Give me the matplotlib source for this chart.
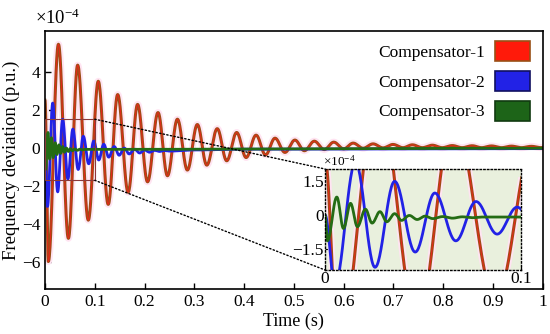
import numpy as np
import matplotlib
matplotlib.use('Agg')
import matplotlib.pyplot as plt
import matplotlib.patheffects as pe
from matplotlib.patches import Patch, Rectangle, ConnectionPatch

plt.rcParams['font.family'] = ['Liberation Serif', 'DejaVu Serif']
plt.rcParams['mathtext.fontset'] = 'custom'
plt.rcParams['mathtext.rm'] = 'Liberation Serif'
plt.rcParams['mathtext.it'] = 'Liberation Serif:italic'

# extrema (time in s, value in 1e-4 p.u.)
red_t = [0, 0.0067, 0.027, 0.047, 0.0656, 0.087, 0.107, 0.127, 0.146, 0.167,
         0.186, 0.206, 0.227, 0.246, 0.266, 0.286, 0.306, 0.325, 0.346, 0.365,
         0.385, 0.404, 0.424, 0.443, 0.462, 0.482, 0.502, 0.521, 0.541, 0.561,
         0.580, 0.600, 0.619, 0.639, 0.659, 0.679, 0.699, 0.719, 0.738, 0.758,
         0.778, 0.798, 0.818, 0.838, 0.858, 0.877, 0.897, 0.917, 0.937, 0.957,
         0.977, 0.997]
red_v = [2.5, -6.0, 5.45, -4.78, 4.35, -3.82, 3.5, -2.99, 2.8, -2.35,
         2.28, -1.8, 1.85, -1.48, 1.5, -1.18, 1.22, -0.92, 1.0, -0.69,
         0.8, -0.52, 0.66, -0.38, 0.5, -0.25, 0.4, -0.16, 0.34, -0.1,
         0.29, -0.06, 0.24, -0.03, 0.2, -0.01, 0.17, 0.0, 0.15, 0.0,
         0.13, 0.0, 0.11, 0.0, 0.1, 0.0, 0.09, 0.0, 0.08, 0.0,
         0.07, 0.0]

blue_t = [0, 0.005, 0.0155, 0.0255, 0.0355, 0.046, 0.056, 0.0667, 0.077, 0.0878,
          0.098, 0.108, 0.118, 0.128, 0.139, 0.149, 0.159, 0.169, 0.18, 0.19,
          0.2, 0.21, 0.22, 0.23, 0.24, 0.25, 0.3, 0.4, 1.0]
blue_v = [0, -3.1, 2.35, -2.33, 1.5, -1.65, 0.98, -1.15, 0.6, -0.85,
          0.35, -0.65, 0.18, -0.5, 0.06, -0.4, -0.02, -0.33, -0.08, -0.28,
          -0.12, -0.24, -0.14, -0.2, -0.15, -0.18, -0.12, -0.08, -0.05]

green_t = [0, 0.0012, 0.006, 0.0094, 0.013, 0.0165, 0.0206, 0.024, 0.028, 0.0315,
           0.0355, 0.039, 0.043, 0.047, 0.051, 0.055, 0.06, 0.065, 0.07, 0.075,
           0.08, 1.0]
green_v = [0, -1.15, 0.8, -0.6, 0.52, -0.52, 0.26, -0.36, 0.15, -0.3,
           0.06, -0.24, -0.02, -0.2, -0.05, -0.16, -0.07, -0.14, -0.08, -0.12,
           -0.09, -0.03]

labels = ['Compensator-1', 'Compensator-2', 'Compensator-3']


def smooth(tt, vv, n=30):
    # half-cosine shape between successive read extrema
    xs, ys = [], []
    for i in range(len(tt) - 1):
        s = np.linspace(0, 1, n, endpoint=False)
        xs.append(tt[i] + (tt[i + 1] - tt[i]) * s)
        ys.append(vv[i] + (vv[i + 1] - vv[i]) * (1 - np.cos(np.pi * s)) / 2)
    xs.append([tt[-1]])
    ys.append([vv[-1]])
    return np.concatenate(xs), np.concatenate(ys)


rx, ry = smooth(red_t, red_v)
rx = np.append(rx, 1.0)
ry = np.append(ry, 0.02)
bx, by = smooth(blue_t, blue_v)
gx, gy = smooth(green_t, green_v)

red_c = '#e8261a'
brown_c = '#9a5016'
blue_c = '#2222e6'
green_c = '#246c14'


def draw(ax):
    ax.plot(rx, ry, color='#ffe4f2', lw=5, solid_capstyle='butt')
    ax.plot(rx, ry, color=red_c, lw=0.7,
            path_effects=[pe.Stroke(linewidth=2.2, foreground=brown_c), pe.Normal()])
    ax.plot(bx, by, color=blue_c, lw=2.0)
    ax.plot(gx, gy, color=green_c, lw=2.0)


fig = plt.figure(figsize=(5.5, 3.34), dpi=100)
ax = fig.add_axes([0.0818, 0.1347, 0.9052, 0.7725])
draw(ax)
ax.set_xlim(0, 1)
ax.set_ylim(-7.45, 6.15)
ax.set_xticks(np.arange(0, 1.01, 0.1))
ax.set_xticklabels(['0', '0.1', '0.2', '0.3', '0.4', '0.5', '0.6', '0.7', '0.8', '0.9', '1'])
ax.set_yticks([-6, -4, -2, 0, 2, 4])
ax.tick_params(direction='in', length=4, labelsize=12.5, width=1, top=False, right=False)
for sp in ax.spines.values():
    sp.set_linewidth(1.2)
ax.set_xlabel('Time (s)', fontsize=13, labelpad=2)
ax.set_ylabel('Frequency deviation (p.u.)', fontsize=13.5, labelpad=1)
ax.text(-0.02, 1.01, r'×10$^{-4}$', transform=ax.transAxes, ha='left', va='bottom', fontsize=13.5)

# zoom box and connectors
ax.add_patch(Rectangle((0, -1.72), 0.1, 3.22, fill=False, ec='#8b3a3a', lw=0.8, zorder=5))

handles = [Patch(facecolor='#ff1a0a', edgecolor=brown_c, lw=1.2),
           Patch(facecolor=blue_c, edgecolor='#101060', lw=1.2),
           Patch(facecolor='#1d6418', edgecolor='#103a10', lw=1.2)]
ax.legend(handles, labels, loc='upper right', frameon=False, fontsize=12.5,
          markerfirst=False, handlelength=2.0, handleheight=1.4, labelspacing=0.55,
          handletextpad=0.6, borderaxespad=0.2, bbox_to_anchor=(0.995, 1.0))

# inset
axin = fig.add_axes([0.591, 0.1916, 0.3564, 0.3024])
axin.set_facecolor('#e9f0dd')
draw(axin)
axin.set_xlim(0, 0.1)
axin.set_ylim(-2.45, 2.05)
axin.set_xticks([0, 0.1])
axin.set_xticklabels(['0', '0.1'])
axin.set_yticks([-1.5, 0, 1.5])
axin.set_yticklabels(['\u22121.5', '0', '1.5'])
axin.tick_params(direction='in', length=3, labelsize=12.5, pad=1)
for sp in axin.spines.values():
    sp.set_linestyle(':')
    sp.set_linewidth(1.0)
axin.text(-0.01, 1.0, r'×10$^{-4}$', transform=axin.transAxes, ha='left', va='bottom', fontsize=9.5)

for ya, yb in [(1.5, 1), (-1.72, 0)]:
    con = ConnectionPatch(xyA=(0.1, ya), coordsA=ax.transData,
                          xyB=(0, yb), coordsB=axin.transAxes,
                          color='black', lw=1.0, ls=':')
    fig.add_artist(con)

fig.savefig('out.png', dpi=100)
